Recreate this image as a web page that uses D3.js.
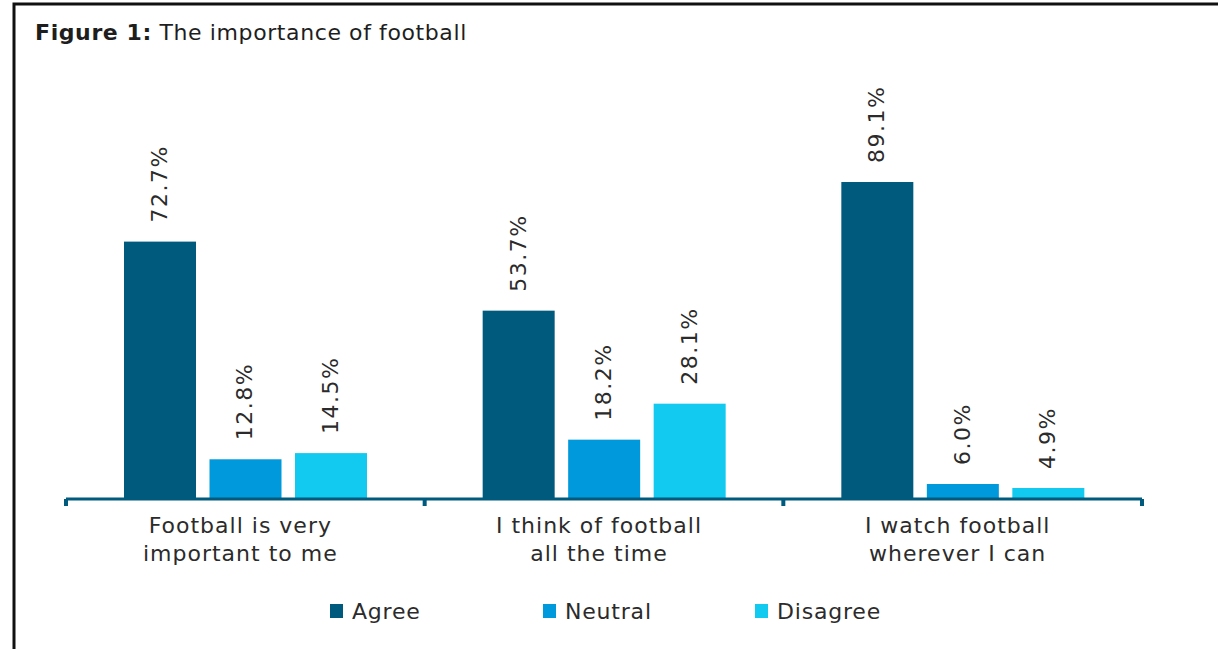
<!DOCTYPE html>
<html>
<head>
<meta charset="utf-8">
<script src="https://cdn.jsdelivr.net/npm/d3@7"></script>
<style>
  html, body { margin: 0; padding: 0; background: #fff; }
  svg { display: block; }
  text { font-family: "DejaVu Sans", Verdana, sans-serif; fill: #2b2b2b; }
</style>
</head>
<body>
<svg id="chart" width="1218" height="649"></svg>
<script>
const categories = [
  ["Football is very", "important to me"],
  ["I think of football", "all the time"],
  ["I watch football", "wherever I can"]
];
const seriesNames = ["Agree", "Neutral", "Disagree"];
const agree    = [72.7, 53.7, 89.1];
const neutral  = [12.8, 18.2, 6.0];
const disagree = [14.5, 28.1, 4.9];
const seriesColors = ["#005a7d", "#0099db", "#12c9f0"];
const titleBold = "Figure 1:";
const titleText = " The importance of football";

const seriesValues = [agree, neutral, disagree];
const data = categories.map((c, i) => ({
  key: i,
  label: c,
  values: seriesNames.map((s, j) => ({ series: s, value: seriesValues[j][i], color: seriesColors[j] }))
}));

const svg = d3.select("#chart");

// frame
svg.append("path")
  .attr("d", "M14,649 L14,4 L1218,4")
  .attr("fill", "none")
  .attr("stroke", "#111")
  .attr("stroke-width", 3);

// title
const title = svg.append("text").attr("x", 35).attr("y", 40)
  .style("font-size", "22px").style("letter-spacing", "0.6px").style("fill", "#1e1e1e");
title.append("tspan").style("font-weight", "bold").text(titleBold);
title.append("tspan").text(titleText);

const axisY = 499;
const x0 = d3.scaleBand().domain(data.map(d => d.key)).range([66, 1142]).padding(0);
const x1 = d3.scaleBand().domain(seriesNames).range([58, 301]).paddingInner(0.158).paddingOuter(0);
const y = d3.scaleLinear().domain([0, 100]).range([505.8, 142.4]);

const groups = svg.append("g").selectAll("g.grp")
  .data(data).join("g")
  .attr("class", "grp")
  .attr("transform", d => `translate(${x0(d.key)},0)`);

groups.selectAll("rect")
  .data(d => d.values).join("rect")
  .attr("x", d => x1(d.series))
  .attr("width", x1.bandwidth())
  .attr("y", d => y(d.value))
  .attr("height", d => axisY - y(d.value))
  .attr("fill", d => d.color);

groups.selectAll("text.val")
  .data(d => d.values).join("text")
  .attr("class", "val")
  .attr("transform", d => `translate(${x1(d.series) + x1.bandwidth() / 2 - 1},${y(d.value) - 19}) rotate(-90)`)
  .attr("dy", "0.36em")
  .attr("text-anchor", "start")
  .style("font-size", "22px")
  .style("letter-spacing", "1.5px")
  .text(d => d.value.toFixed(1) + "%");

// axis
const ag = svg.append("g").attr("transform", `translate(0,${axisY})`);
ag.append("line")
  .attr("x1", x0.range()[0]).attr("x2", x0.range()[1])
  .attr("stroke", "#005a7d").attr("stroke-width", 3);
const tickPos = data.map(d => x0(d.key)).concat([x0.range()[1]]);
ag.selectAll("line.tk").data(tickPos).join("line")
  .attr("class", "tk")
  .attr("x1", d => d).attr("x2", d => d)
  .attr("y1", 0).attr("y2", 7)
  .attr("stroke", "#005a7d").attr("stroke-width", 4);

// category labels
const cl = svg.append("g").selectAll("text.cat")
  .data(data).join("text")
  .attr("class", "cat")
  .attr("x", d => x0(d.key) + x0.bandwidth() / 2 - 5)
  .attr("y", 533)
  .attr("text-anchor", "middle")
  .style("font-size", "22px")
  .style("letter-spacing", "1px");
cl.selectAll("tspan").data(d => d.label).join("tspan")
  .attr("x", function () { return d3.select(this.parentNode).attr("x"); })
  .attr("dy", (d, i) => i === 0 ? 0 : 28)
  .text(d => d);

// legend
const legendX = [330, 543, 755];
const lg = svg.append("g").selectAll("g.leg")
  .data(seriesNames).join("g")
  .attr("class", "leg")
  .attr("transform", (d, i) => `translate(${legendX[i]},604)`);
lg.append("rect").attr("width", 13).attr("height", 14).attr("fill", (d, i) => seriesColors[i]);
lg.append("text").attr("x", 22).attr("y", 15)
  .style("font-size", "22px").style("letter-spacing", "0.8px").text(d => d);
</script>
</body>
</html>
